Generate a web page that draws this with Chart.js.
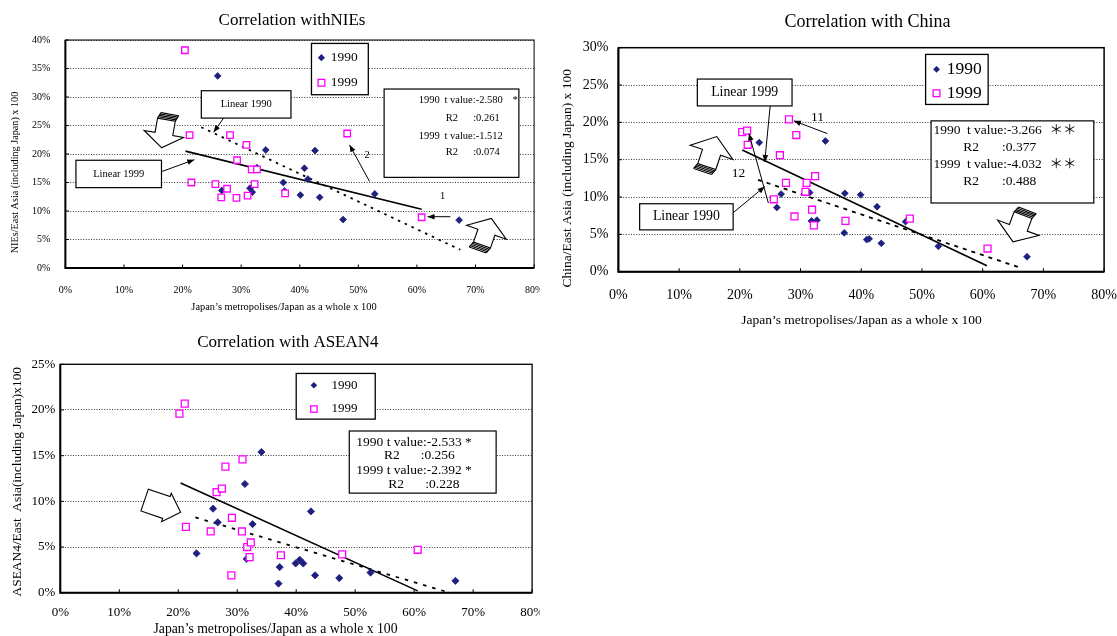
<!DOCTYPE html>
<html>
<head>
<meta charset="utf-8">
<script src="https://cdn.jsdelivr.net/npm/chart.js"></script>
<style>
body { margin: 0; background: #fff; }
#wrap { position: relative; width: 1117px; height: 636px; overflow: hidden; }
canvas { position: absolute; }
</style>
</head>
<body>
<div id="wrap">
  <canvas id="nies" width="540" height="320" style="left:0;top:0"></canvas>
  <canvas id="china" width="572" height="330" style="left:545px;top:0"></canvas>
  <canvas id="asean" width="540" height="306" style="left:0;top:330px"></canvas>
</div>
<script>
// data: [metropolises share %, region share %]
const nies1990 = [[26.0,33.7],[34.2,20.7],[42.6,20.6],[40.8,17.5],[41.4,15.6],[32.7,17.6],[37.2,15.0],[37.4,13.5],
  [40.1,12.8],[43.4,12.4],[52.8,13.0],[47.4,8.5],[67.2,8.4],[31.5,14.0],[31.9,13.3],[26.7,13.6]];
const nies1999 = [[20.4,38.2],[21.2,23.3],[28.1,23.3],[30.9,21.6],[48.1,23.6],[29.3,18.9],[31.8,17.3],[32.7,17.3],
  [21.5,15.0],[25.6,14.7],[32.3,14.7],[27.6,13.9],[26.6,12.4],[29.2,12.3],[31.1,12.7],[37.5,13.1],[60.8,8.9]];
const niesLine1990 = [[23.2,24.7],[67.4,3.2]];
const niesLine1999 = [[20.5,20.5],[60.8,10.3]];
const niesT = ['-2.580', '-1.512'];
const niesR2 = ['0.261', '0.074'];

const china1990 = [[23.2,17.3],[34.1,17.5],[26.8,10.4],[26.1,8.6],[31.5,10.6],[31.8,6.8],[32.7,6.9],[37.3,10.5],
  [39.9,10.3],[42.6,8.7],[37.2,5.2],[40.9,4.3],[41.3,4.4],[43.3,3.8],[47.3,6.7],[52.7,3.4],[67.3,2.0]];
const china1999 = [[20.4,18.7],[21.2,18.9],[21.3,17.0],[28.1,20.4],[29.3,18.3],[26.6,15.6],[32.4,12.8],[27.6,11.9],
  [31.0,11.9],[30.8,10.7],[25.6,9.7],[29.0,7.4],[31.9,8.3],[32.2,6.2],[37.4,6.8],[48.0,7.1],[60.8,3.1]];
const chinaLine1990 = [[23.0,12.3],[66.5,0.45]];
const chinaLine1999 = [[20.4,16.3],[60.7,0.8]];
const chinaT = ['-3.266', '-4.032'];
const chinaR2 = ['0.377', '0.488'];

const asean1990 = [[34.1,15.4],[31.3,11.9],[42.5,8.9],[25.9,9.2],[26.7,7.7],[32.6,7.5],[23.1,4.3],[31.6,3.7],
  [37.2,2.8],[39.9,3.2],[40.6,3.6],[41.2,3.2],[43.2,1.9],[47.3,1.6],[37.0,1.0],[52.6,2.2],[67.0,1.3]];
const asean1999 = [[20.2,19.6],[21.1,20.7],[21.3,7.2],[25.5,6.7],[26.5,11.0],[27.4,11.4],[28.0,13.8],[30.9,14.6],
  [29.1,8.2],[30.8,6.7],[31.7,5.0],[32.3,5.5],[32.1,3.9],[29.0,1.9],[37.4,4.1],[47.8,4.2],[60.6,4.7]];
const aseanLine1990 = [[22.9,8.25],[66.0,0.0]];
const aseanLine1999 = [[20.4,12.0],[60.6,0.2]];
const aseanT = ['-2.533', '-2.392'];
const aseanR2 = ['0.256', '0.228'];

const seriesNames = ['1990', '1999'];
const xAxisText = 'Japan’s metropolises/Japan as a whole x 100';

const FONT = '"Liberation Serif", "Times New Roman", "Noto Sans CJK JP", serif';
Chart.defaults.font.family = FONT;
Chart.defaults.color = '#000';
const NAVY = '#1f1f80';
const PINK = '#ff00ff';

const pts = a => a.map(p => ({ x: p[0], y: p[1] }));

function txt(ctx, s, x, y, size, align, rot) {
  ctx.save();
  ctx.translate(x, y);
  if (rot) ctx.rotate(rot);
  ctx.font = size + 'px ' + FONT;
  ctx.fillStyle = '#000';
  ctx.textAlign = align || 'center';
  ctx.textBaseline = 'middle';
  ctx.fillText(s, 0, 0);
  ctx.restore();
}

function thinArrow(ctx, x1, y1, x2, y2) {
  const ang = Math.atan2(y2 - y1, x2 - x1);
  ctx.lineWidth = 1;
  ctx.beginPath(); ctx.moveTo(x1, y1); ctx.lineTo(x2, y2); ctx.stroke();
  ctx.save();
  ctx.translate(x2, y2); ctx.rotate(ang);
  ctx.beginPath(); ctx.moveTo(0, 0); ctx.lineTo(-7, 2.8); ctx.lineTo(-7, -2.8); ctx.closePath();
  ctx.fill();
  ctx.restore();
}

// fat outlined arrow, tip at (x,y), pointing along deg
function blockArrow(ctx, x, y, deg, L, hl, hw, sw, hatch) {
  ctx.save();
  ctx.translate(x, y);
  ctx.rotate(deg * Math.PI / 180);
  ctx.beginPath();
  ctx.moveTo(0, 0);
  ctx.lineTo(-hl, hw / 2); ctx.lineTo(-hl, sw / 2); ctx.lineTo(-L, sw / 2);
  ctx.lineTo(-L, -sw / 2); ctx.lineTo(-hl, -sw / 2); ctx.lineTo(-hl, -hw / 2);
  ctx.closePath();
  ctx.fillStyle = '#fff'; ctx.fill();
  ctx.strokeStyle = '#000'; ctx.lineWidth = 1.1; ctx.stroke();
  if (hatch) {
    for (let i = 1; i <= 4; i++) {
      ctx.beginPath();
      ctx.moveTo(-L - i * 1.5, -sw / 2 - i * 0.6);
      ctx.lineTo(-L - i * 1.5, sw / 2 - i * 0.6);
      ctx.stroke();
    }
    ctx.beginPath();
    ctx.moveTo(-L, -sw / 2); ctx.lineTo(-L - 6, -sw / 2 - 2.4);
    ctx.moveTo(-L, sw / 2); ctx.lineTo(-L - 6, sw / 2 - 2.4);
    ctx.stroke();
  }
  ctx.restore();
}

function drawNotes(chart, n) {
  const ctx = chart.ctx, a = chart.chartArea;
  const X = v => chart.scales.x.getPixelForValue(v);
  const Y = v => chart.scales.y.getPixelForValue(v);
  ctx.save();
  ctx.strokeStyle = '#000'; ctx.fillStyle = '#000';

  // inward tick marks
  ctx.lineWidth = 1;
  chart.scales.x.ticks.forEach(t => {
    const px = X(t.value);
    ctx.beginPath(); ctx.moveTo(px, a.bottom); ctx.lineTo(px, a.bottom - 3.5); ctx.stroke();
  });
  chart.scales.y.ticks.forEach(t => {
    const py = Y(t.value);
    ctx.beginPath(); ctx.moveTo(a.left, py); ctx.lineTo(a.left + 3.5, py); ctx.stroke();
  });

  // plot frame
  ctx.lineWidth = n.frame[1];
  ctx.strokeRect(a.left, a.top, a.right - a.left, a.bottom - a.top);
  ctx.lineWidth = n.frame[0];
  ctx.beginPath(); ctx.moveTo(a.left, a.top); ctx.lineTo(a.left, a.bottom); ctx.lineTo(a.right, a.bottom); ctx.stroke();

  // titles
  txt(ctx, n.title[0], n.title[1], n.title[2], n.title[3]);
  txt(ctx, n.xTitle[0], n.xTitle[1], n.xTitle[2], n.xTitle[3]);
  txt(ctx, n.yTitle[0], n.yTitle[1], n.yTitle[2], n.yTitle[3], 'center', -Math.PI / 2);

  // text boxes
  n.boxes.forEach(b => {
    const x1 = X(b[0]), y1 = Y(b[1]), x2 = X(b[2]), y2 = Y(b[3]);
    ctx.fillStyle = '#fff'; ctx.fillRect(x1, y1, x2 - x1, y2 - y1);
    ctx.lineWidth = 1.2; ctx.strokeStyle = '#000'; ctx.strokeRect(x1, y1, x2 - x1, y2 - y1);
    if (b[4]) txt(ctx, b[4], (x1 + x2) / 2, (y1 + y2) / 2, b[5]);
  });

  // legend
  const lg = n.legend;
  const lx1 = X(lg.box[0]), ly1 = Y(lg.box[1]), lx2 = X(lg.box[2]), ly2 = Y(lg.box[3]);
  ctx.fillStyle = '#fff'; ctx.fillRect(lx1, ly1, lx2 - lx1, ly2 - ly1);
  ctx.lineWidth = 1.3; ctx.strokeStyle = '#000'; ctx.strokeRect(lx1, ly1, lx2 - lx1, ly2 - ly1);
  const mx = X(lg.mx), m1 = Y(lg.ys[0]), m2 = Y(lg.ys[1]);
  ctx.fillStyle = NAVY;
  ctx.beginPath();
  ctx.moveTo(mx - lg.r, m1); ctx.lineTo(mx, m1 - lg.r); ctx.lineTo(mx + lg.r, m1); ctx.lineTo(mx, m1 + lg.r);
  ctx.closePath(); ctx.fill();
  ctx.strokeStyle = PINK; ctx.lineWidth = 1.3;
  ctx.strokeRect(mx - lg.s, m2 - lg.s, lg.s * 2, lg.s * 2);
  txt(ctx, seriesNames[0], X(lg.tx), m1, lg.size, 'left');
  txt(ctx, seriesNames[1], X(lg.tx), m2, lg.size, 'left');

  // texts
  n.texts.forEach(t => txt(ctx, t[2], X(t[0]), Y(t[1]), t[3], t[4] || 'left'));

  // arrows
  ctx.strokeStyle = '#000'; ctx.fillStyle = '#000';
  n.arrows.forEach(r => thinArrow(ctx, X(r[0]), Y(r[1]), X(r[2]), Y(r[3])));
  n.blocks.forEach(b => blockArrow(ctx, X(b[0]), Y(b[1]), b[2], b[3], b[4], b[5], b[6], b[7]));
  ctx.restore();
}

function makeChart(id, o) {
  return new Chart(document.getElementById(id), {
    type: 'scatter',
    data: {
      datasets: [
        { label: seriesNames[1], data: pts(o.d99), order: 0, pointStyle: 'rect', pointRadius: o.r99,
          backgroundColor: '#fff', borderColor: PINK, borderWidth: 1.3 },
        { label: seriesNames[0], data: pts(o.d90), order: 1, pointStyle: 'rectRot', pointRadius: o.r90,
          backgroundColor: NAVY, borderColor: NAVY, borderWidth: 0.8 },
        { label: 'Linear 1999', data: pts(o.solid), order: 2, showLine: true, pointRadius: 0,
          borderColor: '#000', borderWidth: 1.6 },
        { label: 'Linear 1990', data: pts(o.dashed), order: 3, showLine: true, pointRadius: 0,
          borderColor: '#000', borderWidth: 1.8, borderDash: o.dash }
      ]
    },
    options: {
      responsive: false,
      animation: false,
      events: [],
      layout: { padding: o.pad },
      plugins: { legend: { display: false }, title: { display: false }, tooltip: { enabled: false } },
      scales: {
        x: {
          type: 'linear', min: 0, max: 80,
          grid: { display: false, drawTicks: false },
          border: { display: false },
          ticks: { stepSize: 10, maxRotation: 0, padding: o.xPad, font: { size: o.tick }, color: '#000',
            callback: v => v + '%' },
          afterFit: s => { s.height = o.xH; s.paddingLeft = 0; s.paddingRight = 0; }
        },
        y: {
          min: 0, max: o.yMax,
          grid: { color: '#000', lineWidth: 0.8, drawTicks: false },
          border: { display: false, dash: [1, 1.6] },
          ticks: { stepSize: 5, padding: o.yPad, font: { size: o.tick }, color: '#000',
            callback: v => v + '%' },
          afterFit: s => { s.width = o.yW; s.paddingTop = 0; s.paddingBottom = 0; }
        }
      }
    },
    plugins: [{ id: 'notes', afterDraw: c => drawNotes(c, o.notes) }]
  });
}

makeChart('nies', {
  d90: nies1990, d99: nies1999, solid: niesLine1999, dashed: niesLine1990, dash: [2.5, 5],
  r90: 3.4, r99: 4.6, yMax: 40, tick: 10,
  pad: { left: 0, right: 4.5, top: 40, bottom: 0 }, yW: 65.4, yPad: 15, xH: 52, xPad: 16,
  notes: {
    title: ['Correlation withNIEs', 292, 21, 17],
    xTitle: [xAxisText, 284, 307, 10.4],
    yTitle: ['NIEs/East Asia (including Japan) x 100', 15.5, 172.5, 10.2],
    frame: [2, 1],
    legend: { box: [42.0, 39.4, 51.7, 30.4], mx: 43.7, ys: [36.9, 32.5], tx: 45.3, size: 13.4, r: 3.6, s: 3.4 },
    boxes: [[23.2, 31.1, 38.5, 26.3, 'Linear 1990', 10.5], [1.8, 18.9, 16.4, 14.1, 'Linear 1999', 10.5],
      [54.4, 31.4, 77.4, 15.9, '', 0]],
    texts: [[60.3, 29.4, seriesNames[0], 10.5], [64.7, 29.4, 't value:' + niesT[0], 10.5], [76.3, 29.4, '*', 10.5],
      [64.9, 26.3, 'R2', 10.5], [69.6, 26.3, ':' + niesR2[0], 10.5],
      [60.3, 23.2, seriesNames[1], 10.5], [64.7, 23.2, 't value:' + niesT[1], 10.5],
      [64.9, 20.3, 'R2', 10.5], [69.6, 20.3, ':' + niesR2[1], 10.5],
      [51.5, 19.7, '2', 10.5, 'center'], [64.4, 12.6, '1', 10.5, 'center']],
    arrows: [[27.0, 26.3, 25.3, 23.8], [16.4, 16.9, 22.0, 19.0], [51.9, 15.2, 48.5, 21.6], [65.7, 9.0, 61.8, 9.0]],
    blocks: [[16.4, 21.1, 100, 28.5, 14, 40, 18, true], [72.7, 8.7, -70.6, 28.3, 14.7, 42, 18, true]]
  }
});

makeChart('china', {
  d90: china1990, d99: china1999, solid: chinaLine1999, dashed: chinaLine1990, dash: [4, 5],
  r90: 3.4, r99: 4.9, yMax: 30, tick: 14,
  pad: { left: 0, right: 12.9, top: 47.7, bottom: 0 }, yW: 73.4, yPad: 10, xH: 58.3, xPad: 14.9,
  notes: {
    title: ['Correlation with China', 322.5, 22.7, 18],
    xTitle: [xAxisText, 316.5, 320, 13.5],
    yTitle: ['China/East Asia (including Japan) x 100', 22.6, 178.3, 13.5],
    frame: [2, 1.5],
    legend: { box: [50.6, 29.1, 60.9, 22.4], mx: 52.4, ys: [27.1, 23.9], tx: 54.1, size: 17.5, r: 3.4, s: 3.4 },
    boxes: [[13.0, 25.8, 28.6, 22.2, 'Linear 1999', 13.8], [3.5, 9.1, 18.9, 5.6, 'Linear 1990', 13.8],
      [51.5, 20.2, 78.3, 9.2, '', 0]],
    texts: [[51.9, 18.9, seriesNames[0], 13.5], [57.4, 18.9, 't value:' + chinaT[0], 13.5], [71.0, 18.9, '＊＊', 13.5],
      [56.8, 16.7, 'R2', 13.5], [63.2, 16.7, ':' + chinaR2[0], 13.5],
      [51.9, 14.3, seriesNames[1], 13.5], [57.4, 14.3, 't value:' + chinaT[1], 13.5], [71.0, 14.3, '＊＊', 13.5],
      [56.8, 12.1, 'R2', 13.5], [63.2, 12.1, ':' + chinaR2[1], 13.5],
      [19.8, 13.1, '12', 13.5, 'center'], [32.8, 20.7, '11', 13.5, 'center']],
    arrows: [[25.0, 22.2, 24.1, 14.7], [18.9, 7.9, 24.1, 11.4], [24.7, 9.2, 21.5, 18.5], [34.4, 18.5, 28.9, 20.2]],
    blocks: [[16.2, 18.1, -71.6, 31.6, 16.6, 45, 19, true], [65.0, 4.0, 110.5, 28.5, 15, 44, 19, true]]
  }
});

makeChart('asean', {
  d90: asean1990, d99: asean1999, solid: aseanLine1999, dashed: aseanLine1990, dash: [3.5, 6],
  r90: 3.6, r99: 4.9, yMax: 25, tick: 13,
  pad: { left: 0, right: 7.9, top: 34.3, bottom: 0 }, yW: 60.3, yPad: 5, xH: 43.3, xPad: 12.2,
  notes: {
    title: ['Correlation with ASEAN4', 287.9, 12.7, 17],
    xTitle: [xAxisText, 275.5, 299.3, 13.7],
    yTitle: ['ASEAN4/East  Asia(including Japan)x100', 17.2, 151.7, 13.4],
    frame: [2, 1.3],
    legend: { box: [40.0, 24.0, 53.4, 19.0], mx: 43.0, ys: [22.7, 20.1], tx: 46.0, size: 13, r: 3.3, s: 3.2 },
    boxes: [[49.0, 17.7, 73.9, 10.9, '', 0]],
    texts: [[50.2, 16.5, seriesNames[0] + ' t value:' + aseanT[0] + ' *', 13.5],
      [54.9, 15.0, 'R2', 13.5], [61.1, 15.0, ':' + aseanR2[0], 13.5],
      [50.2, 13.4, seriesNames[1] + ' t value:' + aseanT[1] + ' *', 13.5],
      [55.6, 11.8, 'R2', 13.5], [61.9, 11.8, ':' + aseanR2[1], 13.5]],
    arrows: [],
    blocks: [[20.4, 8.8, 18.8, 38, 15, 30, 23, false]]
  }
});
</script>
</body>
</html>
